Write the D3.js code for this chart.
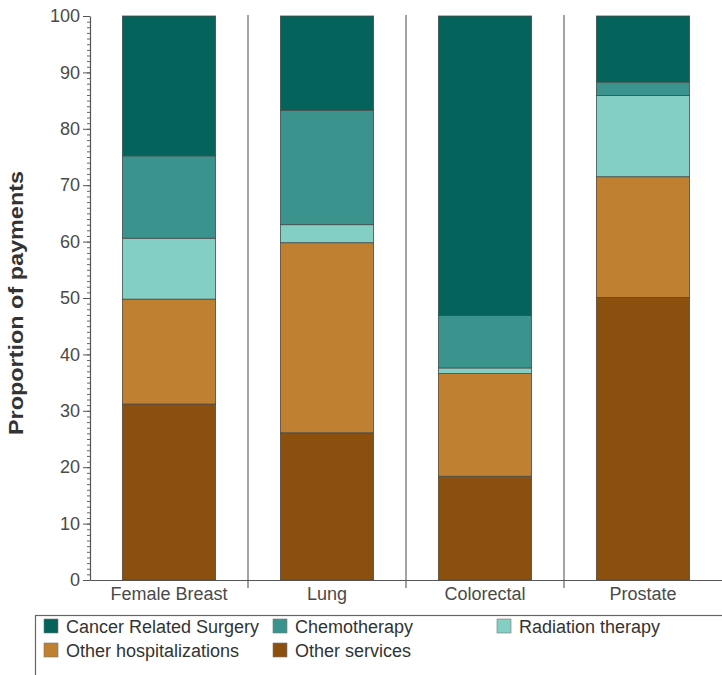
<!DOCTYPE html>
<html><head><meta charset="utf-8">
<script src="https://cdn.jsdelivr.net/npm/d3@7"></script>
<style>body{margin:0;background:#fff;}svg{display:block;font-family:"Liberation Sans",Arial,sans-serif;}</style>
</head><body><svg id="c" width="722" height="675"></svg>
<script>
const categories = ["Female Breast", "Lung", "Colorectal", "Prostate"];
const seriesNames = ["Other services", "Other hospitalizations", "Radiation therapy", "Chemotherapy", "Cancer Related Surgery"];
const otherServices = [31.2, 26.1, 18.4, 50.1];
const otherHosp = [18.6, 33.7, 18.2, 21.4];
const radiation = [10.8, 3.2, 1.0, 14.4];
const chemo = [14.6, 20.3, 9.3, 2.4];
const surgery = [24.8, 16.7, 53.1, 11.7];
const yTicks = [0, 10, 20, 30, 40, 50, 60, 70, 80, 90, 100];
const colors = ["#8B500E", "#C08032", "#84CFC3", "#3A948D", "#04635B"];
const legendOrder = ["Cancer Related Surgery", "Chemotherapy", "Radiation therapy", "Other hospitalizations", "Other services"];

(function () {
const values = [otherServices, otherHosp, radiation, chemo, surgery];
const rows = categories.map((c, i) => {
  const r = {cat: c};
  seriesNames.forEach((s, j) => r[s] = values[j][i]);
  return r;
});
const stacked = d3.stack().keys(seriesNames)(rows);

const svg = d3.select("#c");
const mL = 90, mR = 722, mT = 16, mB = 580;
const x = d3.scaleBand().domain(categories).range([mL, mR]).paddingInner(0).paddingOuter(0);
const y = d3.scaleLinear().domain([0, 100]).range([mB, mT]);
const color = d3.scaleOrdinal().domain(seriesNames).range(colors);
const barW = x.bandwidth() * 0.59;

// dividers
svg.append("g").selectAll("line").data(categories.slice(1)).join("line")
  .attr("x1", d => x(d)).attr("x2", d => x(d))
  .attr("y1", mT - 1).attr("y2", mB + 8)
  .attr("stroke", "#666").attr("stroke-width", 1.2);

// bars
svg.append("g").selectAll("g").data(stacked).join("g")
  .attr("fill", d => color(d.key))
  .selectAll("rect").data(d => d).join("rect")
  .attr("x", d => x(d.data.cat) + (x.bandwidth() - barW) / 2)
  .attr("width", barW)
  .attr("y", d => y(d[1]))
  .attr("height", d => y(d[0]) - y(d[1]))
  .attr("stroke", "#4a4a4a").attr("stroke-width", 0.8);

// y axis minor
const minor = d3.range(0, 101, 1);
svg.append("g").attr("transform", `translate(${mL},0)`)
  .call(d3.axisLeft(y).tickValues(minor).tickSize(3).tickFormat(""))
  .call(g => g.select(".domain").remove())
  .selectAll("line").attr("stroke", "#666");
// y axis major
svg.append("g").attr("transform", `translate(${mL},0)`)
  .call(d3.axisLeft(y).tickValues(yTicks).tickSize(7).tickSizeOuter(0).tickPadding(3))
  .call(g => g.select(".domain").attr("stroke", "#555").attr("stroke-width", 1.2))
  .call(g => g.selectAll("line").attr("stroke", "#555"))
  .call(g => g.selectAll("text").attr("font-size", 18).attr("fill", "#4a4a4a"));

// x axis
svg.append("g").attr("transform", `translate(0,${mB})`)
  .call(d3.axisBottom(x).tickSize(0).tickPadding(7).tickSizeOuter(0))
  .call(g => g.select(".domain").attr("stroke", "#555").attr("stroke-width", 1.2))
  .call(g => g.selectAll("text").attr("font-size", 18).attr("fill", "#4a4a4a"));

// y label
svg.append("text").attr("transform", "translate(23,303) rotate(-90)")
  .attr("text-anchor", "middle").attr("font-size", 20).attr("font-weight", "bold")
  .attr("textLength", 264).attr("lengthAdjust", "spacingAndGlyphs")
  .attr("fill", "#333").text("Proportion of payments");

// legend
svg.append("rect").attr("x", 35.5).attr("y", 615.5).attr("width", 700).attr("height", 80)
  .attr("fill", "none").attr("stroke", "#666").attr("stroke-width", 1.2);
const lpos = [[44, 619], [273, 619], [497, 619], [44, 643], [273, 643]];
const lg = svg.append("g").selectAll("g").data(legendOrder).join("g")
  .attr("transform", (d, i) => `translate(${lpos[i][0]},${lpos[i][1]})`);
lg.append("rect").attr("width", 14).attr("height", 14).attr("fill", d => color(d))
  .attr("stroke", "#777").attr("stroke-width", 0.6);
lg.append("text").attr("x", 22).attr("y", 14).attr("font-size", 18).attr("fill", "#333").text(d => d);
})();
</script></body></html>
